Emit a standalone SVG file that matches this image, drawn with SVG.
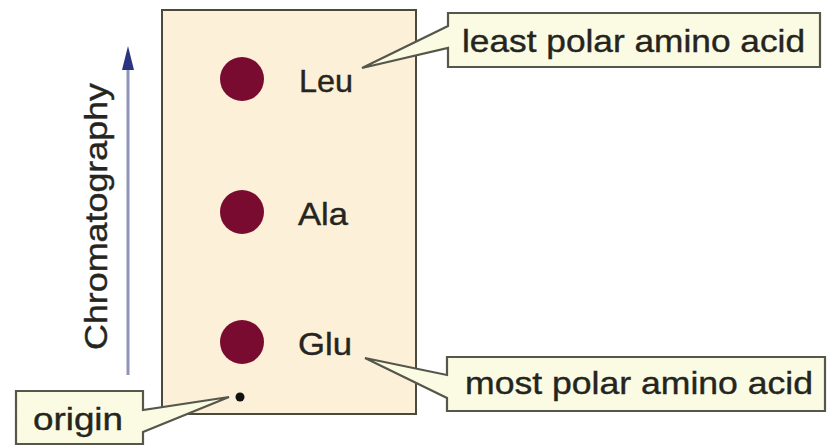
<svg xmlns="http://www.w3.org/2000/svg" width="827" height="446" viewBox="0 0 827 446">
<style>
.lbl{font-family:"Liberation Sans",Arial,sans-serif;font-size:32px;fill:#25251e;stroke:#25251e;stroke-width:0.4}
.call{fill:#fbfbe4;stroke:#55574a;stroke-width:2.2;stroke-linejoin:miter}
.spot{fill:#7a0b30}
</style>
<rect width="827" height="446" fill="#ffffff"/>
<g id="plate">
<rect x="162" y="10" width="254" height="404" fill="#fdf0d8" stroke="#4a4a3c" stroke-width="2"/>
</g>
<g id="axis">
<line x1="128" y1="375" x2="128" y2="66" stroke="#9095b8" stroke-width="3"/>
<polygon points="128,46 122,70 134,70" fill="#2c3580"/>
<text class="lbl" transform="translate(107,350) rotate(-90)" textLength="267" lengthAdjust="spacingAndGlyphs">Chromatography</text>
</g>
<g id="leu">
<circle class="spot" cx="242" cy="79" r="22"/>
<text class="lbl" x="299" y="92" textLength="54" lengthAdjust="spacingAndGlyphs">Leu</text>
</g>
<g id="ala">
<circle class="spot" cx="242" cy="212" r="22"/>
<text class="lbl" x="298" y="225" textLength="50" lengthAdjust="spacingAndGlyphs">Ala</text>
</g>
<g id="glu">
<circle class="spot" cx="242" cy="342" r="22"/>
<text class="lbl" x="298" y="355" textLength="54" lengthAdjust="spacingAndGlyphs">Glu</text>
</g>
<g id="origin-dot">
<circle cx="240" cy="397" r="4.5" fill="#111"/>
</g>
<g id="connectors">
<path class="call" d="M448,13 H820 V67 H448 V48 L362,68 L448,26 Z"/>
<path class="call" d="M447,357 H825 V411 H447 V398 L365,358 L447,375 Z"/>
<path class="call" d="M16,391 H143 V410 L229,397 L143,432 V444 H16 Z"/>
</g>
<g id="least">
<text class="lbl" x="462" y="52" textLength="343" lengthAdjust="spacingAndGlyphs">least polar amino acid</text>
</g>
<g id="most">
<text class="lbl" x="465" y="394" textLength="348" lengthAdjust="spacingAndGlyphs">most polar amino acid</text>
</g>
<g id="origin">
<text class="lbl" x="33" y="430" textLength="90" lengthAdjust="spacingAndGlyphs">origin</text>
</g>
</svg>
